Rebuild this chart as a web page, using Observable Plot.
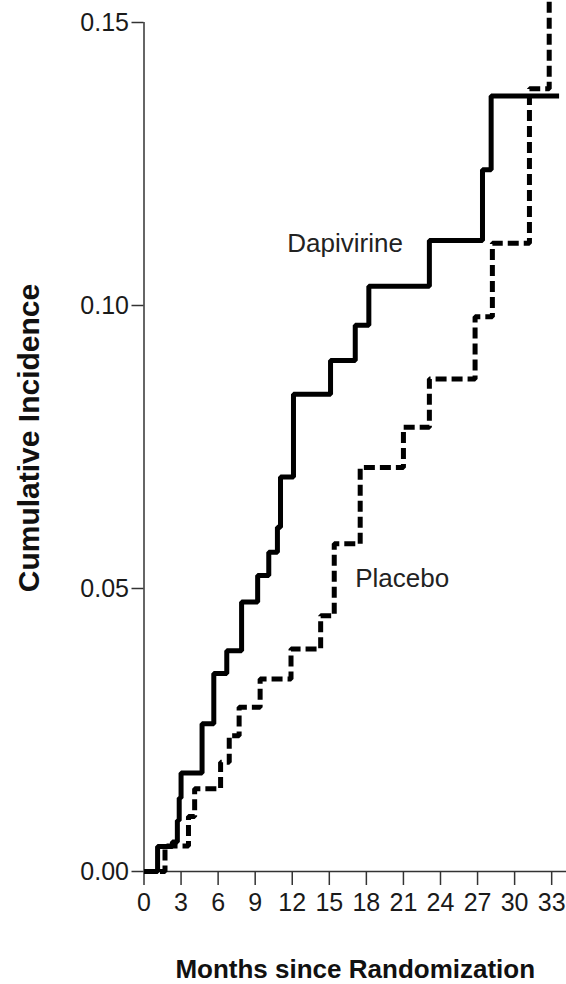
<!DOCTYPE html>
<html><head><meta charset="utf-8">
<script src="https://cdn.jsdelivr.net/npm/d3@7"></script>
<script src="https://cdn.jsdelivr.net/npm/@observablehq/plot@0.6"></script>
<style>body{margin:0;background:#fff} svg{display:block}</style>
</head><body><div id="chart"></div>
<script>
const dapivirineMonths = [0, 1.1, 2.3, 2.7, 2.85, 3.0, 4.7, 5.65, 6.7, 7.9, 9.2, 10.1, 10.8, 11.05, 12.1, 15.1, 17.1, 18.2, 23.1, 27.4, 28.1, 33.6];
const dapivirineValues = [0, 0.0044, 0.0052, 0.009, 0.013, 0.0174, 0.0261, 0.035, 0.039, 0.0476, 0.0523, 0.0564, 0.0608, 0.0697, 0.0843, 0.0903, 0.0965, 0.1034, 0.1115, 0.124, 0.137, 0.137];
const placeboMonths = [0, 1.7, 3.6, 4.1, 6.2, 6.9, 7.7, 9.4, 11.9, 14.3, 15.4, 17.5, 21.0, 23.1, 26.8, 28.2, 31.2, 32.8];
const placeboValues = [0, 0.0045, 0.0097, 0.0146, 0.0193, 0.024, 0.029, 0.034, 0.0393, 0.0452, 0.0579, 0.0714, 0.0785, 0.087, 0.098, 0.111, 0.1383, 0.1545];
const xTicks = [0, 3, 6, 9, 12, 15, 18, 21, 24, 27, 30, 33];
const yTicks = [0, 0.05, 0.10, 0.15];
const labelNames = ["Dapivirine", "Placebo"];
const labelMonths = [11.6, 17.1];
const labelValues = [0.111, 0.0518];
const xTitle = "Months since Randomization";
const yTitle = "Cumulative Incidence";

const dap = dapivirineMonths.map((m, i) => ({month: m, value: dapivirineValues[i]}));
const plac = placeboMonths.map((m, i) => ({month: m, value: placeboValues[i]}));
const labels = labelNames.map((n, i) => ({name: n, month: labelMonths[i], value: labelValues[i]}));

const regular = "'Liberation Sans', Arial, sans-serif";

const plot = Plot.plot({
  width: 566, height: 984,
  marginTop: 22, marginBottom: 113, marginLeft: 143.5, marginRight: 0,
  x: {domain: [0, 34.2]},
  y: {domain: [0, 0.15]},
  style: {fontFamily: regular, background: "#fff", color: "#1a1a1a"},
  marks: [
    Plot.axisX({ticks: xTicks, tickSize: 14, tickPadding: 8, fontSize: 25, label: null, stroke: "#333", strokeWidth: 1.5}),
    Plot.axisY({ticks: yTicks, tickSize: 12, tickPadding: 3, tickFormat: d3.format(".2f"), fontSize: 25, label: null, stroke: "#333", strokeWidth: 1.5}),
    Plot.ruleX([0], {y1: 0, y2: 0.15, stroke: "#333", strokeWidth: 1.5}),
    Plot.ruleY([0], {stroke: "#333", strokeWidth: 1.5}),
    Plot.line(plac, {x: "month", y: "value", curve: "step-after", stroke: "#000", strokeWidth: 5, strokeDasharray: "11,5", strokeLinejoin: "miter", strokeLinecap: "butt"}),
    Plot.line(dap, {x: "month", y: "value", curve: "step-after", stroke: "#000", strokeWidth: 5, strokeLinejoin: "miter", strokeLinecap: "butt"}),
    Plot.text(labels, {x: "month", y: "value", text: "name", textAnchor: "start", fontSize: 26, fill: "#222"}),
    Plot.text([xTitle], {frameAnchor: "bottom", lineAnchor: "bottom", dy: 106, fontSize: 26, fontWeight: "bold", fill: "#111"}),
    Plot.text([yTitle], {frameAnchor: "left", textAnchor: "middle", rotate: -90, lineAnchor: "bottom", dx: -105, dy: -9, fontSize: 30, fontWeight: "bold", fill: "#111"})
  ]
});
document.getElementById("chart").appendChild(plot);
</script>
</body></html>
